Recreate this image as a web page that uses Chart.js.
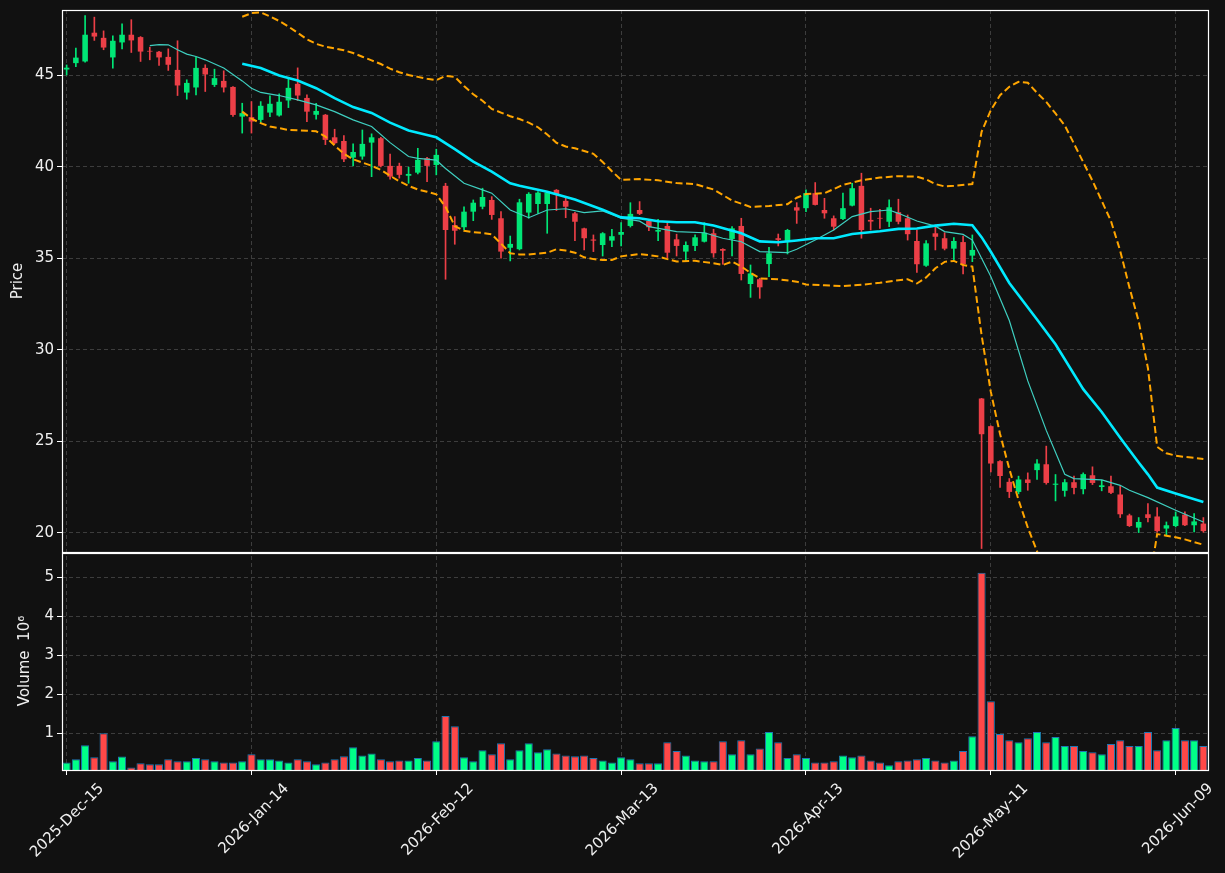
<!DOCTYPE html>
<html><head><meta charset="utf-8">
<script src="https://cdn.jsdelivr.net/npm/chart.js@4.4.1/dist/chart.umd.min.js"></script>
<style>html,body{margin:0;padding:0;background:#111111;}canvas{display:block;}</style>
</head><body>
<canvas id="c" width="1225" height="873"></canvas>
<script>
// ---- categories (trading days) ----
const dates = [
"2025-12-15","2025-12-16","2025-12-17","2025-12-18","2025-12-19","2025-12-22","2025-12-23","2025-12-24","2025-12-26","2025-12-29","2025-12-30","2025-12-31",
"2026-01-02","2026-01-05","2026-01-06","2026-01-07","2026-01-08","2026-01-09","2026-01-12","2026-01-13","2026-01-14","2026-01-15","2026-01-16","2026-01-20","2026-01-21","2026-01-22","2026-01-23","2026-01-26","2026-01-27","2026-01-28","2026-01-29","2026-01-30",
"2026-02-02","2026-02-03","2026-02-04","2026-02-05","2026-02-06","2026-02-09","2026-02-10","2026-02-11","2026-02-12","2026-02-13","2026-02-17","2026-02-18","2026-02-19","2026-02-20","2026-02-23","2026-02-24","2026-02-25","2026-02-26","2026-02-27",
"2026-03-02","2026-03-03","2026-03-04","2026-03-05","2026-03-06","2026-03-09","2026-03-10","2026-03-11","2026-03-12","2026-03-13","2026-03-16","2026-03-17","2026-03-18","2026-03-19","2026-03-20","2026-03-23","2026-03-24","2026-03-25","2026-03-26","2026-03-27","2026-03-30","2026-03-31",
"2026-04-01","2026-04-02","2026-04-06","2026-04-07","2026-04-08","2026-04-09","2026-04-10","2026-04-13","2026-04-14","2026-04-15","2026-04-16","2026-04-17","2026-04-20","2026-04-21","2026-04-22","2026-04-23","2026-04-24","2026-04-27","2026-04-28","2026-04-29","2026-04-30",
"2026-05-01","2026-05-04","2026-05-05","2026-05-06","2026-05-07","2026-05-08","2026-05-11","2026-05-12","2026-05-13","2026-05-14","2026-05-15","2026-05-18","2026-05-19","2026-05-20","2026-05-21","2026-05-22","2026-05-26","2026-05-27","2026-05-28","2026-05-29",
"2026-06-01","2026-06-02","2026-06-03","2026-06-04","2026-06-05","2026-06-08","2026-06-09","2026-06-10","2026-06-11","2026-06-12"];

// ---- OHLC ----
const open = [45.30,45.65,45.74,47.31,47.03,45.96,46.78,47.20,47.07,46.32,46.27,45.99,45.28,44.04,44.32,45.39,44.46,44.68,44.35,42.73,
42.70,42.55,42.95,42.79,43.61,44.52,43.75,42.83,42.83,41.60,41.40,40.49,40.55,41.31,41.55,40.04,40.04,39.50,39.67,40.46,
40.09,38.95,36.81,36.69,37.54,37.81,38.18,37.18,35.57,35.49,37.49,37.96,37.96,38.73,38.13,37.45,36.63,36.02,35.72,35.96,
36.28,36.76,37.63,37.03,36.45,36.76,36.03,35.36,35.67,35.90,36.36,35.50,36.05,36.76,33.59,33.85,34.68,36.09,35.90,37.78,
37.73,38.55,37.63,37.18,37.14,37.87,38.95,37.09,37.20,36.99,37.51,37.18,35.94,34.59,36.36,36.09,35.52,35.88,35.14,27.34,
25.83,23.92,22.79,22.24,22.92,23.43,23.75,22.63,22.30,22.77,22.39,23.15,22.51,22.55,22.10,20.96,20.29,21.02,20.90,20.24,
20.38,21.00,20.42,20.51];
const high = [45.55,46.47,48.24,48.16,47.41,47.14,47.80,48.02,47.10,46.52,46.30,46.43,46.87,44.74,45.96,45.56,45.32,45.23,44.37,43.46,
43.55,43.55,43.86,43.97,44.79,45.39,43.92,43.46,42.85,42.04,41.69,41.24,42.00,41.79,41.60,40.68,40.19,39.97,41.00,40.50,
40.95,39.09,37.27,37.81,38.18,38.82,38.36,37.54,36.21,38.22,38.58,38.63,38.65,38.75,38.36,37.50,36.65,36.27,36.40,36.58,
36.94,38.03,38.09,37.05,37.12,36.94,36.31,35.90,36.27,36.94,36.58,35.52,36.72,37.18,34.63,33.90,35.60,36.32,36.58,38.03,
38.73,39.13,38.27,37.31,38.55,39.09,39.64,37.73,37.67,38.18,38.22,37.36,36.54,35.96,36.81,36.39,36.12,36.21,36.27,27.35,
25.85,23.95,22.97,23.10,23.28,24.01,24.74,23.19,22.92,23.10,23.28,23.61,22.88,23.10,22.55,21.03,20.84,21.60,21.38,20.60,
21.15,21.15,21.06,20.84];
const low = [45.00,45.46,45.70,46.89,46.38,45.38,46.42,46.23,45.74,45.83,45.53,45.25,43.88,43.68,43.92,44.10,44.37,44.07,42.74,41.83,
41.83,42.37,42.73,42.75,43.22,43.61,42.46,42.59,41.20,41.24,40.27,40.04,40.40,39.45,39.98,39.31,39.37,39.09,39.60,39.18,
39.55,33.85,35.76,36.54,37.05,37.69,37.12,35.00,34.85,35.45,37.18,37.45,36.36,37.60,37.21,35.96,35.45,35.36,35.12,35.63,
35.67,36.70,37.38,36.50,35.96,35.00,35.12,34.81,35.41,35.88,35.05,34.67,35.12,33.81,32.86,32.81,33.99,35.67,35.23,36.90,
37.54,37.90,37.18,36.54,37.10,37.85,36.09,36.54,36.63,36.72,36.87,35.99,34.23,34.55,35.45,35.45,34.81,34.14,34.81,19.15,
23.33,22.48,21.93,22.13,22.33,22.92,22.66,21.75,22.00,22.13,22.13,22.64,22.30,22.15,20.84,20.35,20.02,20.60,20.04,19.84,
20.33,20.40,20.06,20.04];
const close = [45.40,45.95,47.20,47.10,46.50,46.87,47.20,46.89,46.28,46.28,45.96,45.56,44.43,44.57,45.39,45.03,44.83,44.32,42.82,42.92,
42.46,43.32,43.43,43.54,44.30,43.88,43.00,43.04,41.46,41.28,40.40,40.80,41.24,41.60,40.04,39.45,39.55,39.60,40.37,40.04,
40.64,36.54,36.50,37.54,38.03,38.34,37.36,35.36,35.78,38.05,38.51,38.58,38.58,38.45,37.81,36.99,36.09,35.96,36.36,36.20,
36.43,37.42,37.42,36.69,36.54,35.30,35.67,35.72,36.14,36.39,35.27,35.41,36.63,34.14,34.17,33.41,35.27,36.00,36.54,37.60,
38.55,37.91,37.45,36.72,37.73,38.82,36.54,37.00,37.16,37.78,36.99,36.31,34.67,35.81,36.17,35.52,35.94,34.68,35.45,25.39,
23.79,23.11,22.24,22.92,22.73,23.79,22.73,22.69,22.77,22.46,23.21,22.73,22.60,22.19,21.02,20.38,20.60,20.82,20.10,20.42,
20.90,20.42,20.63,20.10];

// ---- volume (x 10^6) ----
const volume = [0.25,0.33,0.69,0.38,1.00,0.28,0.40,0.12,0.23,0.20,0.20,0.33,0.28,0.28,0.36,0.33,0.28,0.25,0.25,0.28,
0.46,0.33,0.33,0.30,0.25,0.33,0.28,0.20,0.25,0.33,0.41,0.64,0.43,0.48,0.33,0.28,0.30,0.30,0.36,0.30,
0.79,1.44,1.18,0.38,0.28,0.56,0.46,0.74,0.33,0.56,0.74,0.51,0.59,0.48,0.43,0.41,0.43,0.36,0.30,0.25,
0.38,0.33,0.23,0.23,0.23,0.77,0.54,0.43,0.30,0.28,0.28,0.79,0.46,0.82,0.46,0.61,1.03,0.77,0.36,0.46,
0.36,0.25,0.25,0.28,0.43,0.38,0.43,0.30,0.25,0.18,0.28,0.30,0.33,0.36,0.30,0.25,0.30,0.54,0.92,5.12,
1.82,0.98,0.82,0.77,0.87,1.03,0.77,0.90,0.67,0.67,0.54,0.51,0.46,0.72,0.82,0.67,0.67,1.03,0.56,0.82,
1.13,0.82,0.82,0.67];

// ---- overlay lines: [day index, value] ----
const ma20 = [[19,45.61],[21,45.38],[23,44.97],[25,44.70],[27,44.28],[29,43.74],[31,43.25],[33,42.93],[35,42.40],[37,41.97],[39,41.73],[40,41.60],[42,40.95],[44,40.27],[46,39.73],[48,39.09],[49,38.95],[52,38.63],[55,38.20],[58,37.65],[60,37.23],[62,37.18],[64,37.02],[66,36.96],[68,36.96],[70,36.78],[73,36.36],[75,35.92],[77,35.87],[79,35.97],[81,36.09],[83,36.09],[85,36.32],[88,36.47],[90,36.60],[92,36.62],[94,36.78],[96,36.88],[98,36.80],[99,36.15],[100,35.35],[102,33.65],[105,31.65],[107,30.30],[110,27.85],[112,26.60],[114,25.20],[116,23.85],[117,23.20],[118,22.48],[120,22.15],[123,21.69]];
const ma10 = [[9,46.61],[10,46.66],[11,46.65],[12,46.38],[13,46.14],[14,46.01],[15,45.83],[17,45.38],[19,44.68],[20,44.28],[21,44.05],[23,43.88],[25,43.64],[27,43.37],[29,43.00],[31,42.55],[33,42.19],[35,41.31],[37,40.55],[38,40.45],[40,40.35],[41,39.90],[43,39.09],[45,38.73],[46,38.55],[48,37.63],[50,37.21],[52,37.63],[54,37.70],[56,37.49],[58,37.58],[60,37.18],[62,37.02],[63,36.72],[66,36.45],[69,36.39],[71,36.09],[73,35.90],[75,35.36],[78,35.30],[79,35.49],[81,35.99],[83,36.54],[85,37.27],[87,37.54],[89,37.63],[90,37.45],[92,37.03],[94,36.75],[95,36.45],[97,36.30],[98,35.99],[100,34.00],[102,31.60],[104,28.30],[106,25.60],[108,23.20],[109,22.97],[112,22.90],[114,22.60],[115,22.33],[117,21.93],[120,21.24],[123,20.60]];
const bbUpper = [[19,48.18],[20,48.38],[21,48.42],[22,48.20],[23,47.95],[24,47.65],[25,47.30],[26,46.95],[27,46.70],[28,46.55],[29,46.45],[30,46.35],[31,46.20],[32,46.00],[33,45.80],[34,45.60],[35,45.35],[36,45.15],[37,45.00],[38,44.90],[39,44.80],[40,44.72],[41,44.95],[42,44.90],[43,44.40],[44,43.95],[45,43.60],[46,43.15],[47,42.95],[48,42.75],[49,42.60],[50,42.40],[51,42.15],[52,41.75],[53,41.30],[54,41.10],[55,41.00],[56,40.85],[57,40.70],[58,40.25],[59,39.75],[60,39.28],[62,39.32],[64,39.25],[66,39.10],[68,39.05],[70,38.75],[72,38.15],[74,37.80],[76,37.85],[78,37.95],[79,38.30],[80,38.50],[82,38.55],[84,39.00],[86,39.25],[88,39.40],[90,39.48],[92,39.45],[93,39.30],[94,39.05],[95,38.92],[96,38.95],[98,39.05],[99,41.90],[100,43.08],[101,43.90],[102,44.36],[103,44.63],[104,44.58],[105,44.03],[106,43.53],[107,42.90],[108,42.25],[109,41.25],[110,40.24],[111,39.23],[112,38.13],[113,37.03],[114,35.40],[115,33.40],[116,31.55],[117,29.00],[118,24.70],[119,24.35],[120,24.22],[121,24.15],[122,24.10],[123,24.04]];
const bbLower = [[19,43.00],[20,42.62],[21,42.37],[22,42.19],[23,42.10],[24,42.00],[25,41.98],[26,41.96],[27,41.93],[28,41.64],[29,41.15],[30,40.70],[31,40.40],[32,40.22],[33,40.05],[34,39.82],[35,39.50],[36,39.20],[37,38.95],[38,38.75],[39,38.63],[40,38.49],[41,37.80],[42,36.75],[43,36.50],[44,36.42],[45,36.38],[46,36.30],[47,35.80],[48,35.27],[49,35.20],[50,35.20],[51,35.25],[52,35.30],[53,35.49],[54,35.42],[55,35.30],[56,35.05],[57,34.95],[58,34.90],[59,34.90],[60,35.10],[62,35.23],[64,35.10],[65,34.95],[66,34.82],[68,34.86],[70,34.72],[71,34.63],[72,34.81],[73,34.55],[74,34.20],[75,33.90],[77,33.85],[79,33.72],[80,33.56],[82,33.52],[84,33.48],[86,33.55],[88,33.66],[90,33.80],[91,33.85],[92,33.62],[93,33.95],[94,34.45],[95,34.80],[96,34.85],[97,34.63],[98,34.54],[99,30.80],[100,27.70],[101,25.40],[102,23.50],[103,21.80],[104,20.30],[105,19.00],[106,17.80],[110,15.80],[114,15.20],[117,16.80],[118,19.94],[119,19.85],[120,19.76],[121,19.65],[122,19.50],[123,19.36]];

const monthNames = ["Jan","Feb","Mar","Apr","May","Jun","Jul","Aug","Sep","Oct","Nov","Dec"];
const tickEvery = 20;

// ---- styles ----
const BG = '#111111', TXT = '#f0f0f0', GRID = '#3d3d3d';
const UP = '#00e676', DOWN = '#ec3f47';
const VUP = '#00ff88', VDOWN = '#ff4848';
const FONT = "'DejaVu Sans', sans-serif";

function fmtDate(s){ const [y,m,d] = s.split('-'); return y + '-' + monthNames[+m-1] + '-' + d; }
const isUp = close.map((c,i) => c >= open[i]);
const pts = arr => arr.map(([i,v]) => ({x: dates[i], y: v}));

const bgFrame = {
  id: 'bgFrame',
  beforeDraw(chart){ const c = chart.ctx; c.save(); c.fillStyle = BG; c.fillRect(0,0,chart.width,chart.height); c.restore(); },
  afterDraw(chart){
    const c = chart.ctx, x = chart.scales.x, y = chart.scales.y, v = chart.scales.yv;
    c.save(); c.strokeStyle = '#ffffff'; c.lineWidth = 1.2; c.setLineDash([]);
    c.strokeRect(Math.round(x.left)+0.5, Math.round(y.top)+0.5, Math.round(x.right-x.left), Math.round(y.bottom-y.top));
    c.strokeRect(Math.round(x.left)+0.5, Math.round(v.top)+1.5, Math.round(x.right-x.left), Math.round(v.bottom-v.top)-1);
    c.restore();
  }
};

Chart.defaults.font.family = FONT;
Chart.defaults.font.size = 15;
Chart.defaults.color = TXT;

new Chart(document.getElementById('c'), {
  type: 'bar',
  data: {
    labels: dates,
    datasets: [
      {type:'line', label:'MA20', data: pts(ma20), yAxisID:'y', borderColor:'#00eaff', borderWidth:2.6, pointRadius:0, tension:0, order:1, clip:0},
      {type:'line', label:'MA10', data: pts(ma10), yAxisID:'y', borderColor:'#3fcfc0', borderWidth:1.2, pointRadius:0, tension:0, order:2, clip:0},
      {type:'line', label:'BB upper', data: pts(bbUpper), yAxisID:'y', borderColor:'#ffa500', borderWidth:2, borderDash:[7,3.5], pointRadius:0, tension:0, order:3, clip:0},
      {type:'line', label:'BB lower', data: pts(bbLower), yAxisID:'y', borderColor:'#ffa500', borderWidth:2, borderDash:[7,3.5], pointRadius:0, tension:0, order:3, clip:0},
      {type:'bar', label:'body', data: open.map((o,i) => [o, close[i]]), yAxisID:'y', grouped:false,
       backgroundColor: isUp.map(u => u ? UP : DOWN), barPercentage:0.6, categoryPercentage:1, order:5},
      {type:'bar', label:'wick', data: low.map((l,i) => [l, high[i]]), yAxisID:'y', grouped:false,
       backgroundColor: isUp.map(u => u ? UP : DOWN), barThickness:1, order:6},
      {type:'bar', label:'volume', data: volume, yAxisID:'yv', grouped:false,
       backgroundColor: isUp.map(u => u ? VUP : VDOWN), borderColor:'#1f77b4', borderWidth:1,
       barPercentage:0.88, categoryPercentage:1, order:5}
    ]
  },
  options: {
    responsive:false, animation:false, devicePixelRatio:1,
    layout:{padding:{top:10, right:17, bottom:0, left:0}},
    plugins:{legend:{display:false}, tooltip:{enabled:false}},
    scales:{
      x:{
        type:'category', offset:true,
        grid:{offset:false, lineWidth:1,
          color: c => (c.index % tickEvery === 0 ? GRID : 'rgba(0,0,0,0)'),
          tickColor: c => (c.index % tickEvery === 0 ? '#ffffff' : 'rgba(0,0,0,0)'),
          tickLength:5, tickBorderDash:[]},
        border:{display:false, dash:[4,3]},
        ticks:{autoSkip:false, minRotation:45, maxRotation:45, labelOffset:35, padding:5, color:TXT,
          callback:(v,i) => (i % tickEvery === 0 ? fmtDate(dates[i]) : '')},
        afterFit: s => { s.height = 103; s.paddingLeft = 0; s.paddingRight = 0; }
      },
      y:{
        type:'linear', position:'left', stack:'panels', stackWeight:542, weight:2,
        min:18.96, max:48.55,
        ticks:{stepSize:5, includeBounds:false, padding:3, color:TXT},
        grid:{color:GRID, tickColor:'#ffffff', tickLength:5, tickBorderDash:[]},
        border:{display:false, dash:[4,3]},
        title:{display:true, text:'Price', color:TXT, padding:{top:9, bottom:0}},
        afterFit: s => { s.width = 62; s.paddingTop = 0; s.paddingBottom = 0; }
      },
      yv:{
        type:'linear', position:'left', stack:'panels', stackWeight:218, weight:1,
        min:0.055, max:5.65,
        ticks:{stepSize:1, includeBounds:false, padding:3, color:TXT},
        grid:{color:GRID, tickColor:'#ffffff', tickLength:5, tickBorderDash:[]},
        border:{display:false, dash:[4,3]},
        title:{display:true, text:'Volume  10\u2076', color:TXT, padding:{top:16, bottom:0}},
        afterFit: s => { s.width = 62; s.paddingTop = 0; s.paddingBottom = 0; }
      }
    }
  },
  plugins:[bgFrame]
});
</script>
</body></html>
